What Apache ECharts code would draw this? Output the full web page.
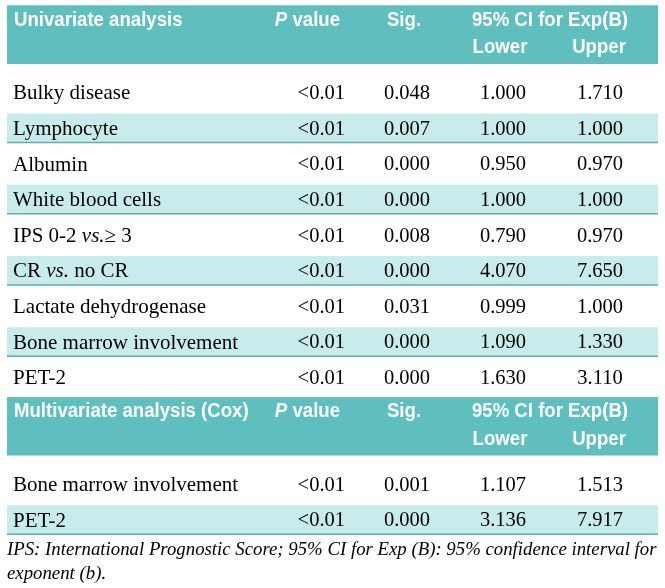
<!DOCTYPE html>
<html>
<head>
<meta charset="utf-8">
<script src="https://cdn.jsdelivr.net/npm/echarts@6/dist/echarts.min.js"></script>
<style>html,body{margin:0;padding:0;background:#fff;}#c{width:665px;height:588px;}</style>
</head>
<body>
<div id="c"></div>
<script>
// ---- data ----
var uniLabels = ['Bulky disease','Lymphocyte','Albumin','White blood cells','IPS 0-2 vs.\u2265 3','CR vs. no CR','Lactate dehydrogenase','Bone marrow involvement','PET-2'];
var uniP      = ['<0.01','<0.01','<0.01','<0.01','<0.01','<0.01','<0.01','<0.01','<0.01'];
var uniSig    = ['0.048','0.007','0.000','0.000','0.008','0.000','0.031','0.000','0.000'];
var uniLower  = ['1.000','1.000','0.950','1.000','0.790','4.070','0.999','1.090','1.630'];
var uniUpper  = ['1.710','1.000','0.970','1.000','0.970','7.650','1.000','1.330','3.110'];
var multiLabels = ['Bone marrow involvement','PET-2'];
var multiP      = ['<0.01','<0.01'];
var multiSig    = ['0.001','0.000'];
var multiLower  = ['1.107','3.136'];
var multiUpper  = ['1.513','7.917'];
var headerTitles = ['Univariate analysis','Multivariate analysis (Cox)'];
var colHeads = ['P value','Sig.','95% CI for Exp(B)','Lower','Upper'];
var footnote = ['IPS: International Prognostic Score; 95% CI for Exp (B): 95% confidence interval for','exponent (b).'];

// ---- layout (not data) ----
var SLOTS = 15;
var colX = {label: 13, p: 345, sig: 407, lower: 503, upper: 600, hp: 340, hsig: 404, hci: 550, hlo: 500, hup: 599, left: 7, right: 658};
var C_HEAD = '#5fbfbf', C_SHADE = '#c8ebeb', C_LINE = '#5aaeae';
var SERIF = '"Liberation Serif","Times New Roman",serif';
var HEADF = '"Liberation Sans",Arial,sans-serif';
var HSCALE = 0.93;

// build rows
var rows = [];
rows.push({slot: 0, kind: 'header', title: headerTitles[0]});
uniLabels.forEach(function (l, i) {
  rows.push({slot: 2 + i, kind: 'data', shaded: i % 2 === 1, label: l, p: uniP[i], sig: uniSig[i], lo: uniLower[i], up: uniUpper[i]});
});
rows.push({slot: 11, kind: 'header', title: headerTitles[1]});
multiLabels.forEach(function (l, i) {
  rows.push({slot: 13 + i, kind: 'data', shaded: i % 2 === 1, label: l, p: multiP[i], sig: multiSig[i], lo: multiLower[i], up: multiUpper[i]});
});

var cats = [];
for (var s = 0; s < SLOTS; s++) cats.push('r' + s);

function richLabel(t) {
  return t.replace('vs.', '{i|vs.}');
}

function txt(x, y, text, align, font, extra, sx) {
  var st = {x: 0, y: 0, text: text, align: align, verticalAlign: 'middle', fill: '#000', font: font};
  if (extra) for (var k in extra) st[k] = extra[k];
  return {type: 'text', x: x, y: y, scaleX: sx || 1, style: st};
}

function renderItem(params, api) {
  var r = rows[params.dataIndex];
  var c = api.coord([0, r.slot]);
  var h = api.size([0, 1])[1];
  var top = c[1] - h / 2;
  var xL = api.coord([colX.left, r.slot])[0];
  var xR = api.coord([colX.right, r.slot])[0];
  function X(k) { return api.coord([colX[k], r.slot])[0]; }
  var ch = [];
  if (r.kind === 'header') {
    ch.push({type: 'rect', shape: {x: xL, y: top + 1.5, width: xR - xL, height: 2 * h - 12.5}, style: {fill: C_HEAD}});
    var hf = 'bold 20px ' + HEADF;
    var y1 = top + 16.5, y2 = top + 44;
    var W = {fill: '#fff'};
    ch.push(txt(X('label') + 1, y1, r.title, 'left', hf, W, HSCALE));
    ch.push(txt(X('hp'), y1, '{pi|P} value', 'right', hf, {fill: '#fff',
      rich: {pi: {fontStyle: 'italic', fontWeight: 'bold', fontSize: 20, fontFamily: HEADF, fill: '#fff'}}}, HSCALE));
    ch.push(txt(X('hsig'), y1, colHeads[1], 'center', hf, W, HSCALE));
    ch.push(txt(X('hci'), y1, colHeads[2], 'center', hf, W, HSCALE));
    ch.push(txt(X('hlo'), y2, colHeads[3], 'center', hf, W, HSCALE));
    ch.push(txt(X('hup'), y2, colHeads[4], 'center', hf, W, HSCALE));
  } else {
    if (r.shaded) {
      ch.push({type: 'rect', shape: {x: xL, y: top + 3, width: xR - xL, height: 29}, style: {fill: C_SHADE}});
      ch.push({type: 'line', shape: {x1: xL, y1: top + 32, x2: xR, y2: top + 32}, style: {stroke: C_LINE, lineWidth: 1.5}});
    }
    var fl = '21px ' + SERIF;
    var fn = '20.5px ' + SERIF;
    var yc = c[1] + 1;
    ch.push(txt(X('label'), yc, richLabel(r.label), 'left', fl, {
      rich: {i: {fontStyle: 'italic', fontSize: 21, fontFamily: SERIF, fill: '#000'}}}));
    ch.push(txt(X('p'), yc, r.p, 'right', fn));
    ch.push(txt(X('sig'), yc, r.sig, 'center', fn));
    ch.push(txt(X('lower'), yc, r.lo, 'center', fn));
    ch.push(txt(X('upper'), yc, r.up, 'center', fn));
  }
  return {type: 'group', children: ch};
}

var chart = echarts.init(document.getElementById('c'), null, {renderer: 'canvas'});
chart.setOption({
  animation: false,
  backgroundColor: '#fff',
  grid: {left: 0, right: 0, top: 3.8, height: 534},
  xAxis: {type: 'value', min: 0, max: 665, show: false},
  yAxis: {type: 'category', data: cats, inverse: true, show: false},
  series: [{
    type: 'custom',
    renderItem: renderItem,
    data: rows.map(function (r) { return [0, r.slot]; }),
    encode: {x: 0, y: 1},
    clip: false
  }],
  graphic: [
    {type: 'text', x: 7, y: 550, style: {text: footnote[0], font: 'italic 18.8px ' + SERIF, fill: '#000', verticalAlign: 'middle'}},
    {type: 'text', x: 7, y: 574, style: {text: footnote[1], font: 'italic 18.8px ' + SERIF, fill: '#000', verticalAlign: 'middle'}}
  ]
});
</script>
</body>
</html>
